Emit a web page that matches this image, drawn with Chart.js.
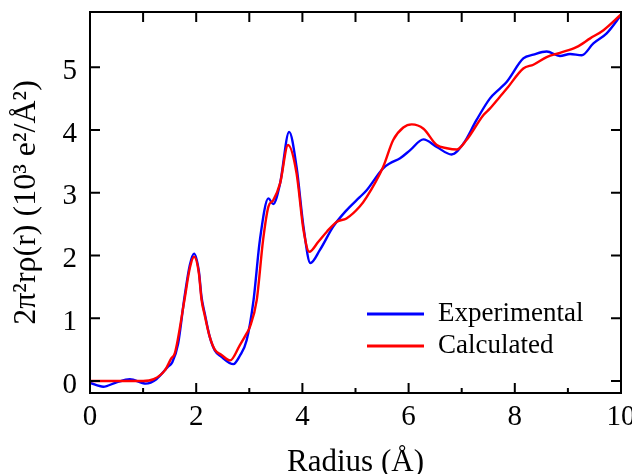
<!DOCTYPE html>
<html><head><meta charset="utf-8">
<script src="https://cdn.jsdelivr.net/npm/chart.js@4"></script>
<style>html,body{margin:0;padding:0;background:#fff}</style>
</head><body>
<canvas id="c" width="632" height="474"></canvas>
<script>
const xTicks = [0, 2, 4, 6, 8, 10];
const yTicks = [0, 1, 2, 3, 4, 5];
const seriesNames = ['Experimental', 'Calculated'];

const rExp = [0.00,0.25,0.50,0.75,1.05,1.25,1.47,1.55,1.66,1.78,1.88,1.96,2.05,2.10,2.16,2.25,2.35,2.47,2.70,2.82,2.95,3.08,3.20,3.36,3.45,3.58,3.75,3.89,4.02,4.15,4.33,4.58,4.83,5.08,5.21,5.52,5.65,5.84,6.03,6.28,6.53,6.81,7.03,7.28,7.53,7.72,7.85,8.16,8.35,8.60,8.85,9.04,9.26,9.48,9.73,10.00];
const gExp = [-0.03,-0.09,-0.02,0.03,-0.04,0.03,0.23,0.30,0.60,1.34,1.85,2.03,1.75,1.34,1.08,0.72,0.49,0.39,0.27,0.40,0.65,1.29,2.25,2.91,2.82,3.15,3.97,3.41,2.46,1.88,2.09,2.46,2.72,2.93,3.04,3.39,3.47,3.55,3.68,3.85,3.73,3.61,3.78,4.16,4.50,4.66,4.77,5.14,5.20,5.25,5.18,5.21,5.19,5.38,5.54,5.83];

const rCalc = [0.00,0.50,1.00,1.20,1.41,1.53,1.60,1.78,1.88,1.96,2.05,2.10,2.16,2.25,2.35,2.47,2.64,2.82,2.95,3.01,3.14,3.26,3.36,3.45,3.58,3.73,3.89,4.02,4.13,4.30,4.46,4.65,4.83,5.08,5.21,5.52,5.71,5.90,6.06,6.28,6.53,6.72,6.91,7.09,7.41,7.53,7.72,7.85,8.16,8.35,8.60,8.85,9.16,9.42,9.67,10.00];
const gCalc = [0.00,0.00,0.00,0.03,0.17,0.36,0.45,1.30,1.80,1.98,1.72,1.30,1.05,0.72,0.50,0.42,0.33,0.57,0.76,0.86,1.29,2.25,2.78,2.88,3.15,3.76,3.31,2.41,2.06,2.22,2.38,2.54,2.59,2.78,2.93,3.41,3.84,4.04,4.09,4.02,3.76,3.71,3.69,3.84,4.24,4.34,4.53,4.66,4.98,5.04,5.16,5.23,5.32,5.46,5.59,5.84];

const FONT = '"Liberation Serif", "Times New Roman", serif';
const colors = ['rgb(0,0,255)', 'rgb(255,0,0)'];

const framePlugin = {
  id: 'frame',
  afterDraw(chart) {
    const {ctx, chartArea: a, scales: {x, y}} = chart;
    ctx.save();
    ctx.strokeStyle = '#000';
    ctx.lineWidth = 2;
    ctx.strokeRect(a.left, a.top, a.right - a.left, a.bottom - a.top);
    ctx.beginPath();
    for (let v = 0; v <= 10; v++) {
      const px = x.getPixelForValue(v);
      const len = v % 2 === 0 ? 10 : 5;
      ctx.moveTo(px, a.bottom); ctx.lineTo(px, a.bottom - len);
      ctx.moveTo(px, a.top); ctx.lineTo(px, a.top + 10);
    }
    for (const v of yTicks) {
      const py = y.getPixelForValue(v);
      ctx.moveTo(a.left, py); ctx.lineTo(a.left + 10, py);
      ctx.moveTo(a.right, py); ctx.lineTo(a.right - 10, py);
    }
    ctx.stroke();
    // legend
    const ds = chart.data.datasets;
    const rows = [314, 346];
    ctx.font = '27px ' + FONT;
    ctx.textBaseline = 'middle';
    ctx.textAlign = 'left';
    ds.forEach((d, i) => {
      const yy = rows[i];
      ctx.strokeStyle = d.borderColor;
      ctx.lineWidth = 3;
      ctx.beginPath();
      ctx.moveTo(367, yy); ctx.lineTo(424, yy);
      ctx.stroke();
      ctx.fillStyle = '#000';
      ctx.fillText(d.label, 438, yy);
    });
    ctx.restore();
  }
};

new Chart(document.getElementById('c'), {
  type: 'line',
  data: {
    datasets: [
      { label: seriesNames[0], data: rExp.map((r, i) => ({x: r, y: gExp[i]})), borderColor: colors[0], borderWidth: 2.4, pointRadius: 0, cubicInterpolationMode: 'monotone', fill: false, order: 1 },
      { label: seriesNames[1], data: rCalc.map((r, i) => ({x: r, y: gCalc[i]})), borderColor: colors[1], borderWidth: 2.4, pointRadius: 0, cubicInterpolationMode: 'monotone', fill: false, order: 0 }
    ]
  },
  options: {
    responsive: false,
    devicePixelRatio: 1,
    animation: false,
    layout: { padding: { top: 12, right: 11, left: 0, bottom: 0 } },
    plugins: { legend: { display: false }, tooltip: { enabled: false } },
    scales: {
      x: {
        type: 'linear', min: 0, max: 10,
        grid: { display: false, drawTicks: false },
        border: { display: false },
        afterBuildTicks: s => { s.ticks = xTicks.map(v => ({value: v})); },
        ticks: { font: { family: FONT, size: 29 }, color: '#000', padding: 7, maxRotation: 0, autoSkip: false },
        title: { display: true, text: 'Radius (Å)', font: { family: FONT, size: 31, lineHeight: 0.75 }, color: '#000', padding: { top: 0, bottom: 0 } },
        afterFit: s => { s.height = 81; s.paddingLeft = 0; s.paddingRight = 0; }
      },
      y: {
        type: 'linear', min: -0.19, max: 5.88,
        grid: { display: false, drawTicks: false },
        border: { display: false },
        afterBuildTicks: s => { s.ticks = yTicks.map(v => ({value: v})); },
        ticks: { font: { family: FONT, size: 29 }, color: '#000', padding: 13, labelOffset: 4, autoSkip: false },
        title: { display: true, text: '2π²rρ(r) (10³ e²/Å²)', font: { family: FONT, size: 32, lineHeight: 0.75 }, color: '#000', padding: { top: 15, bottom: 0 } },
        afterFit: s => { s.width = 90; s.paddingTop = 0; s.paddingBottom = 0; }
      }
    }
  },
  plugins: [framePlugin]
});
</script>
</body></html>
